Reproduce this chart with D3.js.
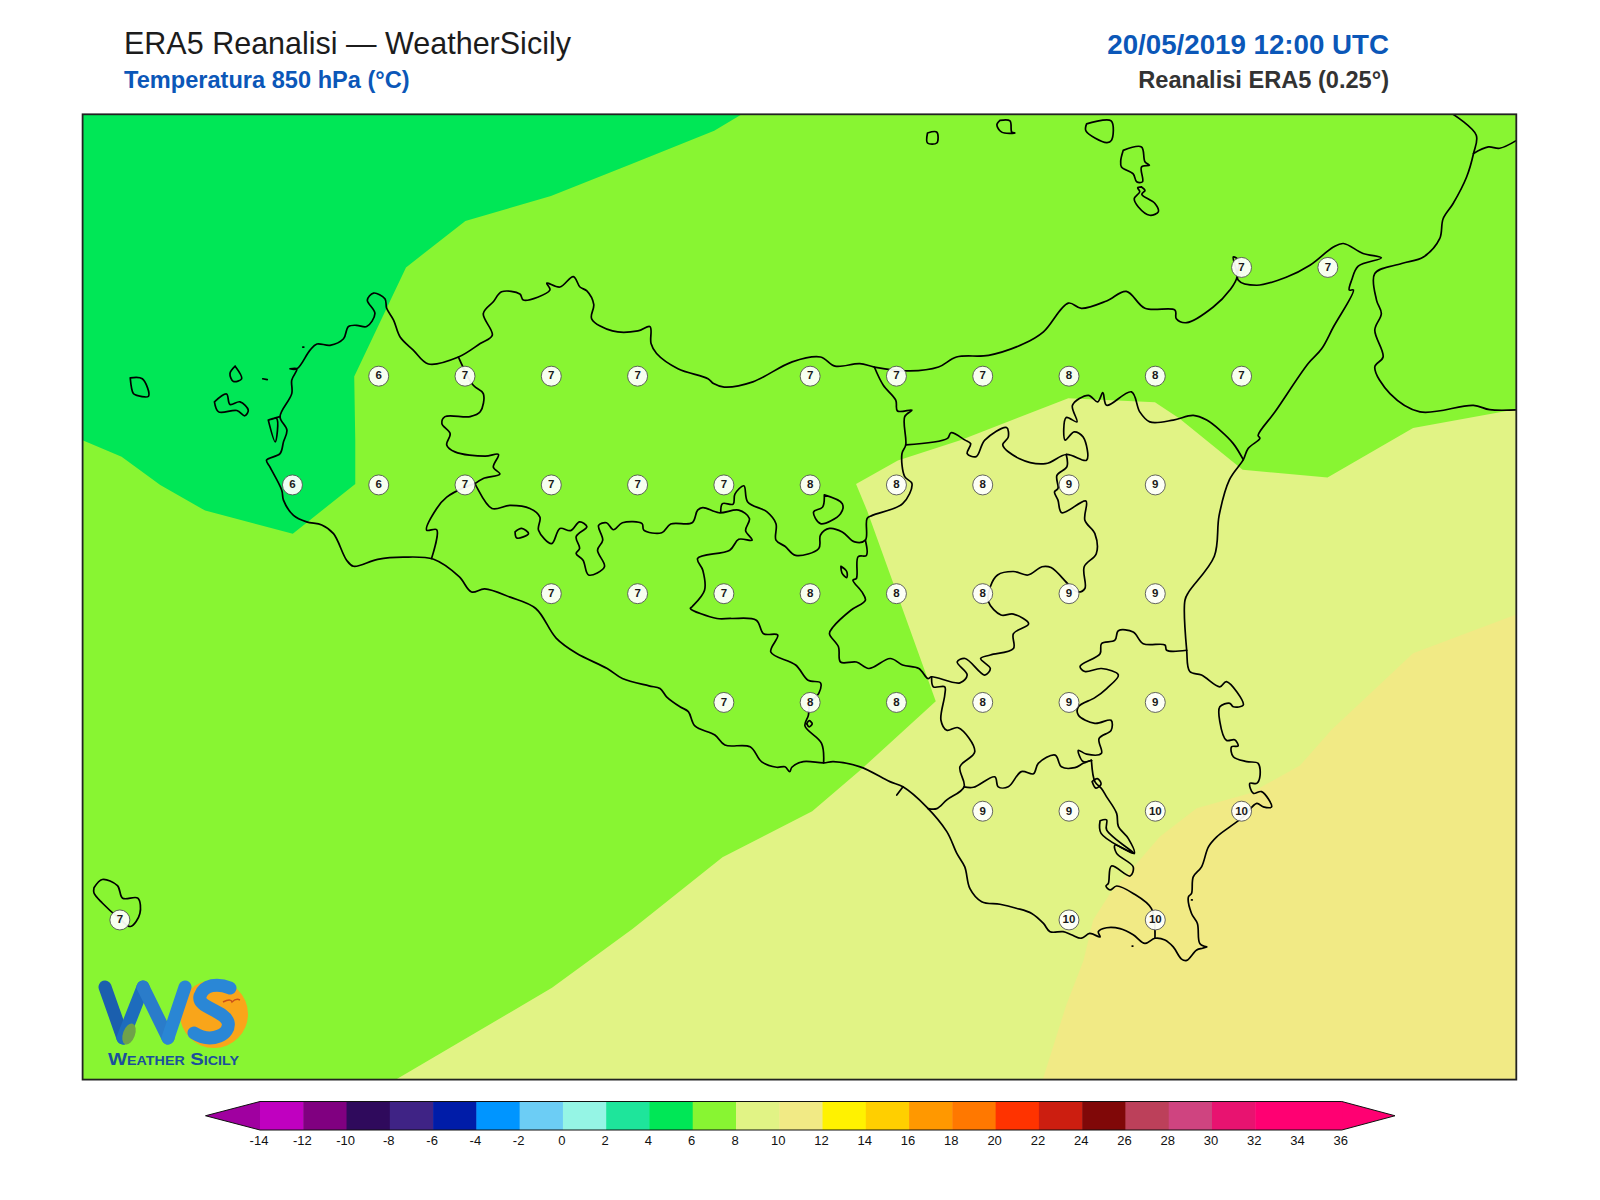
<!DOCTYPE html>
<html>
<head>
<meta charset="utf-8">
<title>ERA5 Reanalisi - WeatherSicily</title>
<script src="https://cdn.jsdelivr.net/npm/d3@7"></script>
<style>
  body { margin: 0; background: #fff; }
  text { font-family: "Liberation Sans", Arial, sans-serif; }
</style>
</head>
<body>
<div id="chart"></div>
<script>
// map window in degrees
const lonExtent = [11.892, 16.046];
const latExtent = [38.602, 36.383];

// colour bar levels (degC) and their colours
const levels = [-14,-12,-10,-8,-6,-4,-2,0,2,4,6,8,10,12,14,16,18,20,22,24,26,28,30,32,34,36];
const levelColors = ["#c000c0","#800080","#2f0a5c","#3f2385","#001ca8","#0095ff","#6ccdf5","#95f5e5",
  "#1ee59b","#00e756","#88f532","#e1f385","#f1ea85","#fff200","#ffcf00","#ff9800","#ff7800","#ff3300",
  "#cc1e10","#800808","#bc405a","#cf4480","#e81370","#ff0072","#ff0072"];
const underColor = "#a000a0";
const overColor = "#ff0072";

// 850 hPa temperature at grid points: lon, lat, value
const tempPoints = [
  [15.25,38.25,7],[15.5,38.25,7],
  [12.75,38,6],[13,38,7],[13.25,38,7],[13.5,38,7],[14,38,7],[14.25,38,7],[14.5,38,7],[14.75,38,8],[15,38,8],[15.25,38,7],
  [12.5,37.75,6],[12.75,37.75,6],[13,37.75,7],[13.25,37.75,7],[13.5,37.75,7],[13.75,37.75,7],[14,37.75,8],[14.25,37.75,8],[14.5,37.75,8],[14.75,37.75,9],[15,37.75,9],
  [13.25,37.5,7],[13.5,37.5,7],[13.75,37.5,7],[14,37.5,8],[14.25,37.5,8],[14.5,37.5,8],[14.75,37.5,9],[15,37.5,9],
  [13.75,37.25,7],[14,37.25,8],[14.25,37.25,8],[14.5,37.25,8],[14.75,37.25,9],[15,37.25,9],
  [14.5,37,9],[14.75,37,9],[15,37,10],[15.25,37,10],
  [12,36.75,7],[14.75,36.75,10],[15,36.75,10]
];

// filled temperature bands, lon/lat outlines
const band4to6 = [[11.8,38.7],[13.802,38.7],[13.802,38.602],[13.722,38.564],[13.486,38.489],[13.249,38.414],[13.001,38.357],[12.829,38.25],[12.679,37.999],[12.682,37.853],[12.682,37.752],[12.501,37.638],[12.247,37.691],[12.117,37.75],[12.005,37.815],[11.892,37.853],[11.8,37.9]];
const band8to10 = [[12.8,36.383],[13.252,36.594],[13.486,36.73],[13.746,36.894],[14.006,37],[14.145,37.094],[14.364,37.253],[14.166,37.689],[14.133,37.752],[14.254,37.806],[14.435,37.853],[14.748,37.949],[14.999,37.94],[15.07,37.903],[15.253,37.785],[15.499,37.767],[15.747,37.881],[16.046,37.924],[16.1,37.93],[16.1,36.3],[12.7,36.3]];
const band10to12 = [[14.674,36.383],[14.742,36.554],[14.792,36.657],[14.82,36.75],[14.869,36.811],[14.946,36.88],[15.013,36.941],[15.12,37.007],[15.274,37.041],[15.419,37.105],[15.511,37.187],[15.747,37.363],[16.046,37.452],[16.1,37.47],[16.1,36.3],[14.64,36.3]];

// Sicily coast, clockwise from Capo Passero
const sicilyCoast = [[15.149,36.688],[15.137,36.685],[15.12,36.681],[15.091,36.657],[15.076,36.66],[15.052,36.688],[15.028,36.704],[14.999,36.708],[14.97,36.696],[14.936,36.716],[14.898,36.73],[14.859,36.732],[14.835,36.723],[14.84,36.711],[14.81,36.719],[14.786,36.708],[14.757,36.716],[14.733,36.723],[14.695,36.723],[14.676,36.742],[14.642,36.765],[14.597,36.777],[14.55,36.786],[14.497,36.792],[14.463,36.822],[14.448,36.872],[14.425,36.903],[14.396,36.953],[14.337,37.01],[14.269,37.056],[14.231,37.068],[14.145,37.102],[14.067,37.114],[14.039,37.111],[13.98,37.114],[13.947,37.101],[13.941,37.091],[13.927,37.102],[13.903,37.101],[13.859,37.114],[13.826,37.148],[13.753,37.152],[13.724,37.175],[13.666,37.196],[13.647,37.229],[13.623,37.24],[13.584,37.263],[13.565,37.282],[13.533,37.288],[13.456,37.305],[13.412,37.328],[13.323,37.363],[13.264,37.398],[13.205,37.466],[13.131,37.492],[13.057,37.511],[13.019,37.504],[12.983,37.539],[12.909,37.579],[12.821,37.584],[12.747,37.579],[12.677,37.563],[12.657,37.577],[12.619,37.638],[12.585,37.658],[12.541,37.665],[12.503,37.68],[12.474,37.715],[12.469,37.738],[12.435,37.791],[12.425,37.807],[12.464,37.822],[12.474,37.849],[12.484,37.876],[12.464,37.907],[12.498,37.96],[12.498,37.991],[12.513,38.017],[12.493,38.017],[12.513,38.017],[12.551,38.06],[12.571,38.074],[12.609,38.071],[12.648,38.086],[12.662,38.114],[12.686,38.117],[12.715,38.114],[12.739,38.144],[12.717,38.175],[12.735,38.191],[12.768,38.178],[12.773,38.156],[12.793,38.129],[12.812,38.09],[12.85,38.06],[12.894,38.028],[12.981,38.044],[13.044,38.075],[13.079,38.094],[13.053,38.144],[13.082,38.171],[13.106,38.194],[13.159,38.189],[13.169,38.175],[13.246,38.198],[13.237,38.214],[13.275,38.205],[13.314,38.229],[13.333,38.205],[13.353,38.196],[13.373,38.165],[13.367,38.132],[13.427,38.104],[13.501,38.104],[13.536,38.114],[13.539,38.075],[13.555,38.052],[13.617,38.017],[13.704,37.994],[13.72,37.983],[13.751,37.975],[13.834,37.987],[13.948,38.033],[14.03,38.044],[14.072,38.023],[14.144,38.029],[14.186,38.021],[14.289,38.012],[14.372,38.021],[14.424,38.044],[14.517,38.048],[14.62,38.075],[14.676,38.102],[14.748,38.168],[14.786,38.156],[14.859,38.173],[14.916,38.195],[14.97,38.156],[15.057,38.152],[15.061,38.132],[15.091,38.123],[15.168,38.159],[15.216,38.198],[15.237,38.229],[15.226,38.274],[15.242,38.266],[15.24,38.221],[15.294,38.209],[15.381,38.228],[15.448,38.255],[15.516,38.297],[15.545,38.305],[15.602,38.282],[15.655,38.272],[15.588,38.253],[15.569,38.221],[15.562,38.198],[15.574,38.198],[15.516,38.113],[15.482,38.063],[15.443,38.029],[15.347,37.918],[15.298,37.864],[15.303,37.857],[15.269,37.834],[15.255,37.808],[15.215,37.762],[15.185,37.68],[15.171,37.586],[15.097,37.504],[15.086,37.485],[15.091,37.37],[15.1,37.321],[15.134,37.313],[15.187,37.286],[15.206,37.298],[15.255,37.244],[15.226,37.24],[15.216,37.248],[15.187,37.24],[15.187,37.206],[15.206,37.163],[15.23,37.164],[15.24,37.15],[15.221,37.148],[15.226,37.125],[15.265,37.114],[15.298,37.11],[15.303,37.079],[15.294,37.064],[15.274,37.064],[15.284,37.041],[15.308,37.045],[15.337,37.01],[15.313,37.01],[15.294,37.018],[15.255,36.987],[15.216,36.964],[15.178,36.941],[15.154,36.918],[15.134,36.872],[15.11,36.849],[15.105,36.811],[15.096,36.803],[15.105,36.765],[15.122,36.742],[15.129,36.696],[15.149,36.688]];

// smaller islands
const islands = [
  [[14.907,38.519],[14.96,38.527],[14.97,38.493],[14.983,38.485],[14.96,38.481],[14.963,38.447],[14.946,38.447],[14.936,38.465],[14.902,38.481],[14.9,38.496],[14.907,38.519]],
  [[14.96,38.435],[14.97,38.427],[14.961,38.418],[14.999,38.397],[15.009,38.378],[14.984,38.37],[14.951,38.389],[14.939,38.408],[14.955,38.424],[14.949,38.433],[14.96,38.435]],
  [[14.801,38.58],[14.872,38.587],[14.873,38.542],[14.859,38.537],[14.799,38.564],[14.801,38.58]],
  [[14.55,38.588],[14.579,38.587],[14.584,38.561],[14.593,38.559],[14.555,38.561],[14.541,38.578],[14.55,38.588]],
  [[14.34,38.559],[14.367,38.561],[14.367,38.536],[14.34,38.536],[14.34,38.559]],
  [[11.925,36.824],[11.949,36.843],[11.993,36.829],[12.008,36.8],[12.052,36.8],[12.058,36.765],[12.031,36.735],[11.999,36.753],[11.949,36.789],[11.925,36.812],[11.925,36.824]],
  [[12.03,37.996],[12.065,37.994],[12.083,37.954],[12.049,37.956],[12.039,37.96],[12.03,37.996]],
  [[12.274,37.941],[12.309,37.959],[12.319,37.935],[12.348,37.941],[12.372,37.922],[12.362,37.909],[12.339,37.921],[12.286,37.918],[12.274,37.941]],
  [[12.334,38.023],[12.353,37.994],[12.329,37.988],[12.319,38.006],[12.334,38.023]],
  [[12.414,37.994],[12.427,37.992]],
  [[12.53,38.067],[12.533,38.067]],
  [[14.933,36.69],[14.935,36.69]],
  [[15.105,36.796],[15.107,36.796]],
  [[12.464,37.907],[12.43,37.899],[12.454,37.903],[12.45,37.849],[12.43,37.899]]
];

// Calabria coast, top right of the map
const calabriaCoast = [[15.863,38.602],[15.93,38.554],[15.922,38.512],[15.902,38.458],[15.863,38.397],[15.834,38.362],[15.824,38.316],[15.777,38.274],[15.714,38.259],[15.636,38.236],[15.641,38.175],[15.655,38.144],[15.636,38.106],[15.66,38.044],[15.636,38.021],[15.68,37.96],[15.767,37.918],[15.922,37.933],[15.969,37.923],[16.06,37.923]];
const calabriaBorder = [[15.922,38.512],[15.965,38.527],[15.998,38.524],[16.057,38.547]];

// province borders
const provinceBorders = [
  // Trapani / Palermo
  [[12.981,38.044],[13.024,37.979],[13.053,37.96],[13.044,37.918],[13.015,37.907],[12.942,37.907],[12.933,37.891],[12.957,37.868],[12.947,37.842],[12.971,37.826],[13.058,37.816],[13.097,37.82],[13.082,37.791],[13.101,37.775],[13.053,37.765],[13.029,37.753]],
  // Trapani / Agrigento
  [[13.029,37.753],[13,37.745],[12.947,37.722],[12.918,37.696],[12.889,37.646],[12.918,37.647],[12.903,37.581]],
  // Palermo / Agrigento / Caltanissetta
  [[13.029,37.753],[13.034,37.745],[13.078,37.696],[13.13,37.703],[13.188,37.696],[13.217,37.676],[13.213,37.646],[13.251,37.615],[13.275,37.65],[13.306,37.645],[13.332,37.665],[13.353,37.654],[13.322,37.631],[13.332,37.604],[13.322,37.592],[13.342,37.577],[13.358,37.543],[13.404,37.562],[13.384,37.6],[13.399,37.623],[13.387,37.657],[13.41,37.663],[13.43,37.647],[13.456,37.663],[13.513,37.661],[13.518,37.646],[13.57,37.64],[13.596,37.66],[13.658,37.663],[13.674,37.692],[13.689,37.698],[13.736,37.686],[13.793,37.692],[13.824,37.673],[13.813,37.645],[13.832,37.623],[13.793,37.625],[13.767,37.6],[13.674,37.581],[13.689,37.554],[13.694,37.508],[13.658,37.47],[13.653,37.466],[13.73,37.443],[13.772,37.443],[13.844,37.439],[13.865,37.408],[13.906,37.405],[13.886,37.366],[13.958,37.336],[13.994,37.301],[14.03,37.295],[14.025,37.271],[13.999,37.248],[13.995,37.221],[13.985,37.196],[14.033,37.156],[14.039,37.111]],
  // Palermo / Enna / Messina
  [[13.741,37.688],[13.746,37.707],[13.777,37.706],[13.782,37.729],[13.808,37.748],[13.819,37.711],[13.875,37.688],[13.901,37.661],[13.901,37.623],[13.927,37.609],[13.958,37.588],[14.025,37.604],[14.03,37.635],[14.056,37.65],[14.093,37.642],[14.129,37.619],[14.16,37.623],[14.165,37.673],[14.18,37.68],[14.268,37.707],[14.295,37.753],[14.274,37.769],[14.266,37.822],[14.277,37.842],[14.274,37.907],[14.295,37.922],[14.253,37.92],[14.248,37.945],[14.212,37.979],[14.186,38.021]],
  // Caltanissetta / Enna / Catania
  [[14.16,37.623],[14.163,37.588],[14.139,37.585],[14.134,37.535],[14.124,37.531],[14.15,37.504],[14.16,37.485],[14.118,37.462],[14.067,37.424],[14.056,37.408],[14.082,37.378],[14.088,37.343],[14.134,37.343],[14.17,37.328],[14.232,37.351],[14.268,37.336],[14.315,37.328],[14.341,37.305],[14.352,37.309],[14.434,37.295],[14.455,37.313],[14.426,37.343],[14.449,37.351],[14.506,37.313],[14.522,37.328],[14.494,37.351],[14.522,37.359],[14.589,37.374],[14.589,37.408],[14.633,37.431],[14.589,37.453],[14.553,37.451],[14.517,37.481],[14.522,37.516],[14.543,37.543],[14.589,37.551],[14.631,37.543],[14.672,37.562],[14.698,37.56],[14.75,37.52],[14.775,37.504],[14.796,37.512],[14.794,37.562],[14.829,37.592],[14.825,37.638],[14.796,37.669],[14.799,37.713],[14.729,37.686],[14.718,37.715],[14.708,37.734],[14.718,37.742],[14.715,37.772],[14.744,37.792],[14.742,37.82]],
  // Messina, southern side
  [[14.277,37.842],[14.398,37.857],[14.408,37.87],[14.449,37.853],[14.465,37.845],[14.455,37.822],[14.481,37.815],[14.506,37.853],[14.569,37.882],[14.574,37.86],[14.558,37.842],[14.605,37.811],[14.682,37.799],[14.742,37.82],[14.801,37.807],[14.791,37.86],[14.765,37.872],[14.739,37.853],[14.742,37.905],[14.773,37.895],[14.76,37.933],[14.806,37.956],[14.833,37.941],[14.848,37.962],[14.859,37.933],[14.931,37.964],[14.955,37.918],[14.984,37.895],[15.052,37.899],[15.11,37.91],[15.149,37.899],[15.187,37.876],[15.226,37.845],[15.255,37.808]],
  // Caltanissetta / Ragusa
  [[14.352,37.309],[14.357,37.286],[14.39,37.286],[14.39,37.267],[14.379,37.209],[14.396,37.186],[14.429,37.192],[14.477,37.137],[14.434,37.102],[14.446,37.056],[14.396,37.026],[14.367,37.006],[14.342,37.006]],
  // Catania / Ragusa
  [[14.446,37.056],[14.473,37.055],[14.535,37.079],[14.545,37.056],[14.574,37.056],[14.612,37.091],[14.647,37.086],[14.661,37.11],[14.71,37.129],[14.728,37.102],[14.767,37.1],[14.791,37.11],[14.815,37.117]],
  // Catania / Siracusa
  [[15.091,37.37],[15.033,37.37],[15.028,37.382],[14.965,37.385],[14.936,37.412],[14.893,37.415],[14.883,37.393],[14.844,37.385],[14.84,37.362],[14.782,37.333],[14.796,37.321],[14.844,37.328],[14.893,37.313],[14.859,37.282],[14.825,37.261],[14.777,37.24],[14.777,37.221],[14.825,37.202],[14.872,37.209],[14.872,37.186],[14.837,37.167],[14.844,37.133],[14.801,37.131],[14.777,37.14],[14.791,37.114],[14.815,37.117]],
  // Ragusa / Siracusa
  [[14.815,37.117],[14.825,37.068],[14.844,37.052],[14.859,37.033],[14.888,36.995],[14.893,36.965],[14.922,36.937],[14.939,36.903],[14.883,36.922],[14.888,36.903],[14.936,36.872],[14.927,36.851],[14.873,36.874],[14.864,36.834],[14.857,36.828],[14.869,36.819],[14.888,36.828],[14.936,36.811],[14.989,36.776],[14.999,36.708]],
  // short spur on the south coast
  [[14.251,37.037],[14.269,37.056]]
];

// lakes and enclaves
const lakes = [
  [[14.041,37.727],[14.093,37.707],[14.088,37.684],[14.03,37.661],[14.01,37.688],[14.036,37.699],[14.041,37.727]],
  [[13.145,37.642],[13.164,37.65],[13.184,37.638],[13.15,37.628],[13.145,37.642]],
  [[14.089,37.563],[14.106,37.551],[14.106,37.537],[14.092,37.548],[14.089,37.563]],
  [[13.99,37.201],[13.997,37.208],[14.006,37.201],[13.997,37.194],[13.99,37.201]],
  [[14.817,37.068],[14.832,37.075],[14.843,37.063],[14.828,37.053],[14.817,37.068]],
  [[14.84,36.978],[14.859,36.98],[14.859,36.957],[14.939,36.903],[14.843,36.949],[14.84,36.978]]
];

const width = 1600, height = 1200;
const svg = d3.select("#chart").append("svg").attr("width", width).attr("height", height);

const frame = { left: 82.6, right: 1516.3, top: 114.3, bottom: 1079.6 };
const x = d3.scaleLinear().domain(lonExtent).range([frame.left, frame.right]);
const y = d3.scaleLinear().domain(latExtent).range([frame.top, frame.bottom]);
const line = d3.line().x(d => x(d[0])).y(d => y(d[1]));
// coast lines are drawn with a light smoothing
const coastLine = d3.line().x(d => x(d[0])).y(d => y(d[1])).curve(d3.curveCatmullRom.alpha(0.5));

// titles
const blue = "#0b57b8";
svg.append("text").attr("x", 124).attr("y", 54).attr("font-size", 30.5).attr("fill", "#1c1c1c").text("ERA5 Reanalisi — WeatherSicily");
svg.append("text").attr("x", 124).attr("y", 88).attr("font-size", 23.6).attr("font-weight", "bold").attr("fill", blue).text("Temperatura 850 hPa (°C)");
svg.append("text").attr("x", 1389).attr("y", 54).attr("text-anchor", "end").attr("font-size", 27.7).attr("font-weight", "bold").attr("fill", blue).text("20/05/2019 12:00 UTC");
svg.append("text").attr("x", 1389).attr("y", 88).attr("text-anchor", "end").attr("font-size", 23.6).attr("font-weight", "bold").attr("fill", "#333").text("Reanalisi ERA5 (0.25°)");

// map
svg.append("clipPath").attr("id", "mapClip").append("rect")
  .attr("x", frame.left).attr("y", frame.top)
  .attr("width", frame.right - frame.left).attr("height", frame.bottom - frame.top);
const map = svg.append("g").attr("clip-path", "url(#mapClip)");

map.append("rect").attr("x", frame.left).attr("y", frame.top)
  .attr("width", frame.right - frame.left).attr("height", frame.bottom - frame.top)
  .attr("fill", levelColors[10]);
map.append("path").attr("d", line(band8to10) + "Z").attr("fill", levelColors[11]);
map.append("path").attr("d", line(band10to12) + "Z").attr("fill", levelColors[12]);
map.append("path").attr("d", line(band4to6) + "Z").attr("fill", levelColors[9]);

const outlines = [sicilyCoast, calabriaCoast, calabriaBorder].concat(islands, provinceBorders, lakes);
map.selectAll("path.coast").data(outlines).enter().append("path")
  .attr("class", "coast")
  .attr("d", coastLine)
  .attr("fill", "none")
  .attr("stroke", "#000")
  .attr("stroke-width", 1.7)
  .attr("stroke-linejoin", "round")
  .attr("stroke-linecap", "round");

// grid point labels
const marks = map.selectAll("g.mark").data(tempPoints).enter().append("g")
  .attr("class", "mark")
  .attr("transform", d => `translate(${x(d[0])},${y(d[1])})`);
marks.append("circle").attr("r", 10).attr("fill", "#fff").attr("fill-opacity", 0.93)
  .attr("stroke", "#555").attr("stroke-width", 0.9);
marks.append("text").attr("text-anchor", "middle").attr("y", 3.3).attr("font-size", 11.5)
  .attr("font-weight", "bold").attr("fill", "#1a1a1a").text(d => d[2]);

// logo, bottom left corner
const logo = svg.append("g");
logo.append("circle").attr("cx", 214).attr("cy", 1014).attr("r", 34).attr("fill", "#f9a51a");
logo.append("path").attr("d", "M230,988 C218,983 204,984 200,996 C197,1008 224,1010 228,1022 C231,1034 212,1044 194,1033")
  .attr("fill", "none").attr("stroke", "#2a87d6").attr("stroke-width", 13).attr("stroke-linecap", "round");
logo.append("path").attr("d", "M223,1002 q8,-4 9,0 q4,-4 8,-2").attr("fill", "none").attr("stroke", "#c9501a").attr("stroke-width", 1.4);
[["M105,987 L123,1038", "#1b5fae"], ["M143,987 L123,1038", "#1d6cbd"], ["M143,987 L168,1038", "#2a7cca"], ["M185,987 L168,1038", "#2a86d4"]]
  .forEach(s => logo.append("path").attr("d", s[0]).attr("stroke", s[1]).attr("stroke-width", 13).attr("stroke-linecap", "round").attr("fill", "none"));
logo.append("ellipse").attr("cx", 129).attr("cy", 1034).attr("rx", 6).attr("ry", 11).attr("transform", "rotate(20 129 1034)").attr("fill", "#6fa24a");
logo.append("text").attr("x", 108).attr("y", 1065).attr("font-size", 17).attr("font-weight", "bold")
  .attr("fill", "#1b4f9c").attr("textLength", 131).attr("lengthAdjust", "spacingAndGlyphs")
  .style("font-variant", "small-caps").text("Weather Sicily");

// frame on top of the map
svg.append("rect").attr("x", frame.left).attr("y", frame.top)
  .attr("width", frame.right - frame.left).attr("height", frame.bottom - frame.top)
  .attr("fill", "none").attr("stroke", "#222").attr("stroke-width", 1.8);

// colour bar
const barTop = 1101.5, barBottom = 1130;
const barX = d3.scaleLinear().domain([levels[0], levels[levels.length - 1]]).range([260, 1341.8]);
const barMid = (barTop + barBottom) / 2;
const tipLeft = 205.5, tipRight = 1395;
svg.append("path").attr("d", `M${barX(-14)},${barTop}L${tipLeft},${barMid}L${barX(-14)},${barBottom}Z`).attr("fill", underColor);
svg.append("path").attr("d", `M${barX(36)},${barTop}L${tipRight},${barMid}L${barX(36)},${barBottom}Z`).attr("fill", overColor);
svg.selectAll("rect.cell").data(levelColors).enter().append("rect")
  .attr("class", "cell")
  .attr("x", (d, i) => barX(levels[i]))
  .attr("y", barTop)
  .attr("width", (d, i) => barX(levels[i + 1]) - barX(levels[i]) + 0.5)
  .attr("height", barBottom - barTop)
  .attr("fill", d => d);
svg.append("path")
  .attr("d", `M${barX(-14)},${barTop}L${barX(36)},${barTop}L${tipRight},${barMid}L${barX(36)},${barBottom}L${barX(-14)},${barBottom}L${tipLeft},${barMid}Z`)
  .attr("fill", "none").attr("stroke", "#111").attr("stroke-width", 1);

const barAxis = d3.axisBottom(barX).tickValues(levels).tickSize(0).tickPadding(6).tickFormat(d => String(d));
const axisG = svg.append("g").attr("transform", `translate(-1.5,${barBottom})`).call(barAxis);
axisG.select(".domain").remove();
axisG.selectAll("text").attr("font-size", 13).attr("fill", "#111").style("font-family", '"Liberation Sans", Arial, sans-serif');
</script>
</body>
</html>
